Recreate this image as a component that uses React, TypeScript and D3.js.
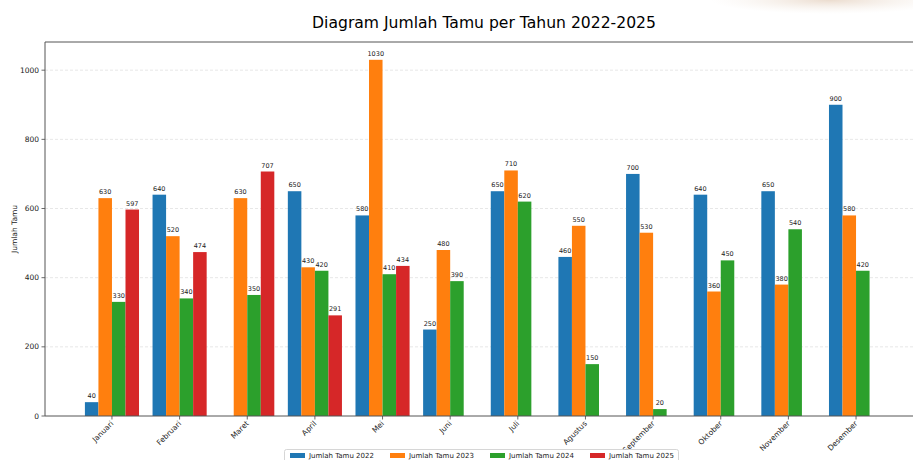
import React from 'react'
import * as d3 from 'd3'

const months = ['Januari', 'Februari', 'Maret', 'April', 'Mei', 'Juni', 'Juli', 'Agustus', 'September', 'Oktober', 'November', 'Desember']
const tamu2022 = [40, 640, null, 650, 580, 250, 650, 460, 700, 640, 650, 900]
const tamu2023 = [630, 520, 630, 430, 1030, 480, 710, 550, 530, 360, 380, 580]
const tamu2024 = [330, 340, 350, 420, 410, 390, 620, 150, 20, 450, 540, 420]
const tamu2025 = [597, 474, 707, 291, 434, null, null, null, null, null, null, null]
const seriesNames = ['Jumlah Tamu 2022', 'Jumlah Tamu 2023', 'Jumlah Tamu 2024', 'Jumlah Tamu 2025']
const yTicks = [0, 200, 400, 600, 800, 1000]

const colours = ['#1f77b4', '#ff7f0e', '#2ca02c', '#d62728']
const font = 'DejaVu Sans, sans-serif'

export default function App() {
  const width = 913
  const height = 460
  const series = [tamu2022, tamu2023, tamu2024, tamu2025]
  const barW = 0.2

  const x = d3.scaleLinear().domain([-0.99, 11.99]).range([45, 923])
  const y = d3.scaleLinear().domain([0, 1081.5]).range([416, 42])
  const left = x(-0.99)
  const right = x(11.99)
  const bw = x(barW) - x(0)

  const bars = []
  const labels = []
  series.forEach((vals, s) => {
    vals.forEach((v, i) => {
      if (v == null) return
      const cx = x(i + (s - 1.5) * barW)
      bars.push(<rect key={`b${s}_${i}`} x={cx - bw / 2} y={y(v)} width={bw} height={y(0) - y(v)} fill={colours[s]} />)
      labels.push(<text key={`l${s}_${i}`} x={cx} y={y(v) - 4} textAnchor="middle" fontSize={6.5} fill="#222">{v}</text>)
    })
  })

  const legendX = [290, 390, 490, 590]

  return (
    <svg width={width} height={height} style={{ position: 'absolute', left: 0, top: 0, background: '#fff' }} fontFamily={font}>
      <defs>
        <radialGradient id="blob" cx="0.5" cy="0.5" r="0.5">
          <stop offset="0" stopColor="#e6d3c2" stopOpacity={0.8} />
          <stop offset="1" stopColor="#f3ebe3" stopOpacity={0} />
        </radialGradient>
      </defs>
      <ellipse cx={830} cy={0} rx={120} ry={14} fill="url(#blob)" />
      <text x={(left + right) / 2} y={28} textAnchor="middle" fontSize={15.6} fill="#000">Diagram Jumlah Tamu per Tahun 2022-2025</text>

      {yTicks.map(t => (
        <g key={`g${t}`}>
          {t > 0 && <line x1={left} x2={right} y1={y(t)} y2={y(t)} stroke="#ddd" strokeWidth={0.7} strokeDasharray="3,2" />}
          <line x1={left - 3.5} x2={left} y1={y(t)} y2={y(t)} stroke="#444" strokeWidth={0.8} />
          <text x={left - 6} y={y(t)} dy="0.35em" textAnchor="end" fontSize={7.5} fill="#222">{t}</text>
        </g>
      ))}

      {bars}
      {labels}

      <line x1={left} x2={left} y1={y.range()[1]} y2={y(0)} stroke="#555" strokeWidth={1} />
      <line x1={left} x2={right} y1={y(0)} y2={y(0)} stroke="#555" strokeWidth={1} />
      <line x1={left} x2={right} y1={y.range()[1]} y2={y.range()[1]} stroke="#555" strokeWidth={1} />
      <line x1={right} x2={right} y1={y.range()[1]} y2={y(0)} stroke="#555" strokeWidth={1} />

      {months.map((m, i) => (
        <g key={m}>
          <line x1={x(i)} x2={x(i)} y1={y(0)} y2={y(0) + 3.5} stroke="#444" strokeWidth={0.8} />
          <text transform={`translate(${x(i) + 2},${y(0) + 8}) rotate(-45)`} textAnchor="end" fontSize={7.5} fill="#222">{m}</text>
        </g>
      ))}

      <text transform={`translate(17,${(y(0) + y.range()[1]) / 2}) rotate(-90)`} textAnchor="middle" fontSize={7.5} fill="#222">Jumlah Tamu</text>

      <rect x={284.5} y={449.5} width={394} height={14} rx={2} fill="#fff" stroke="#ccc" strokeWidth={0.8} />
      {seriesNames.map((n, s) => (
        <g key={n}>
          <rect x={legendX[s]} y={453} width={15} height={5} fill={colours[s]} />
          <text x={legendX[s] + 19} y={458} fontSize={7} fill="#222">{n}</text>
        </g>
      ))}
    </svg>
  )
}
